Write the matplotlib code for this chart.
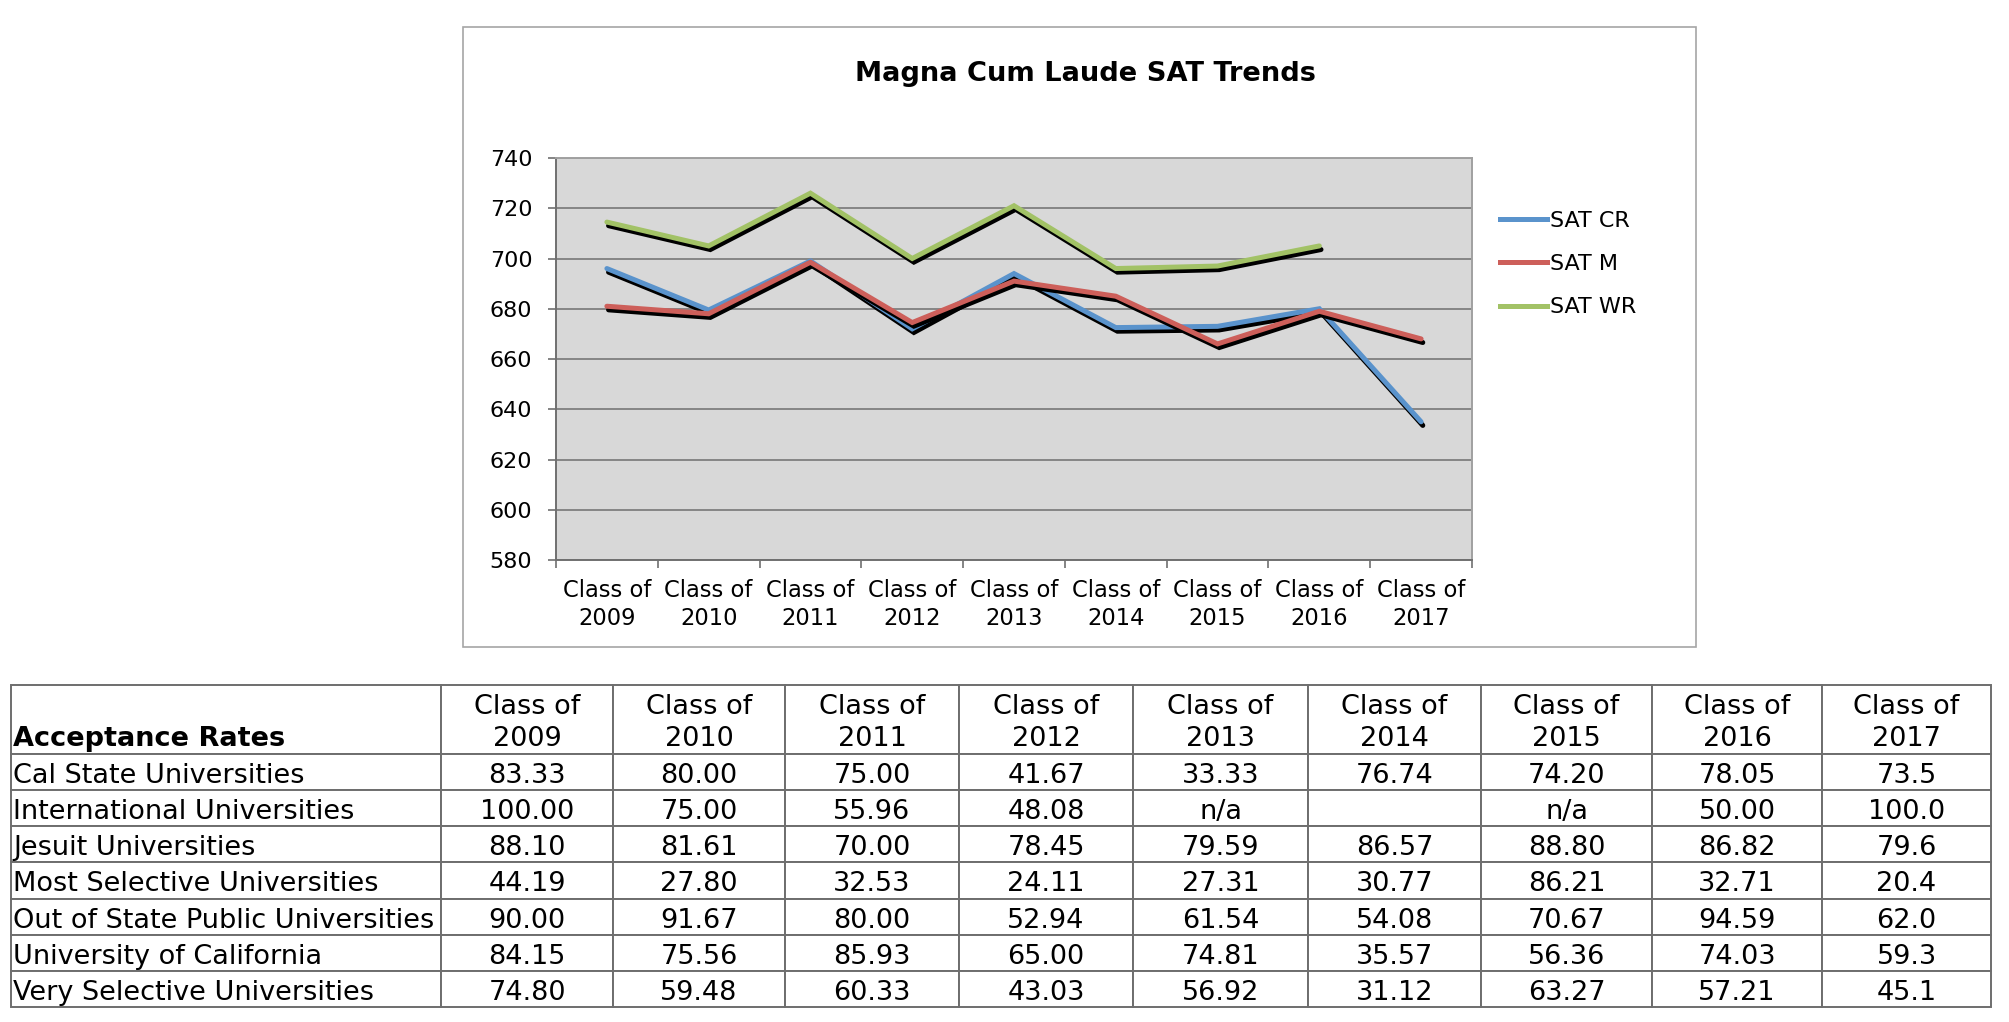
import numpy as np
import matplotlib
matplotlib.use('Agg')
import matplotlib.pyplot as plt
import matplotlib.patheffects as pe
from matplotlib.patches import Rectangle
from matplotlib.transforms import Affine2D

# ─────────────────────────────────────────
# DATA
# ─────────────────────────────────────────
classes = ['2009', '2010', '2011', '2012', '2013', '2014', '2015', '2016', '2017']
sat_cr = [696, 679.5, 699, 672, 694, 672.5, 673, 680, 635]
sat_m  = [681, 678, 698.5, 674.5, 691, 685, 666, 679, 668]
sat_wr = [714.5, 705, 726, 700, 721, 696, 697, 705, np.nan]

series_names  = ['SAT CR', 'SAT M', 'SAT WR']
series_colors = ['#5a93cc', '#cd5f5a', '#a2c266']

table_title = 'Acceptance Rates'
row_labels = ['Cal State Universities', 'International Universities',
              'Jesuit Universities', 'Most Selective Universities',
              'Out of State Public Universities', 'University of California',
              'Very Selective Universities']
cal_state     = ['83.33', '80.00', '75.00', '41.67', '33.33', '76.74', '74.20', '78.05', '73.5']
international = ['100.00', '75.00', '55.96', '48.08', 'n/a', '', 'n/a', '50.00', '100.0']
jesuit        = ['88.10', '81.61', '70.00', '78.45', '79.59', '86.57', '88.80', '86.82', '79.6']
most_sel      = ['44.19', '27.80', '32.53', '24.11', '27.31', '30.77', '86.21', '32.71', '20.4']
out_of_state  = ['90.00', '91.67', '80.00', '52.94', '61.54', '54.08', '70.67', '94.59', '62.0']
uc            = ['84.15', '75.56', '85.93', '65.00', '74.81', '35.57', '56.36', '74.03', '59.3']
very_sel      = ['74.80', '59.48', '60.33', '43.03', '56.92', '31.12', '63.27', '57.21', '45.1']

W, H = 2009, 1022
fig = plt.figure(figsize=(W / 100, H / 100), dpi=100)
plt.rcParams['font.family'] = 'DejaVu Sans'


def fx(px):
    return px / W


def fy(py):
    return 1 - py / H


# ─────────────────────────────────────────
# CHART BOX + TITLE
# ─────────────────────────────────────────
fig.patches.append(Rectangle((fx(463), fy(647)), fx(1696) - fx(463), fy(27) - fy(647),
                             transform=fig.transFigure, facecolor='white',
                             edgecolor='#a6a6a6', linewidth=1.2, zorder=-1))
fig.text(fx(1085), fy(81), 'Magna Cum Laude SAT Trends', ha='center', va='baseline',
         fontsize=19.6, fontweight='bold')

# ─────────────────────────────────────────
# LINE CHART
# ─────────────────────────────────────────
ax = fig.add_axes([fx(556), fy(560), fx(1472) - fx(556), fy(158) - fy(560)])
ax.set_facecolor('#d8d8d8')
x = np.arange(len(classes))

for vals, name, col in zip([sat_cr, sat_m, sat_wr], series_names, series_colors):
    ln, = ax.plot(x, vals, color=col, linewidth=3.6, label=name,
                  solid_capstyle='round', solid_joinstyle='miter')
    ln.set_path_effects([pe.SimpleLineShadow(offset=(1.2, -2.6), shadow_color='black', alpha=1.0),
                         pe.Normal()])

ax.set_xlim(-0.5, len(classes) - 0.5)
ax.set_ylim(580, 740)
ax.set_yticks(np.arange(580, 741, 20))
ax.set_xticks(np.arange(-0.5, len(classes), 1))
ax.set_xticklabels([])
ax.set_xticks(x, minor=True)
ax.set_xticklabels(['Class of\n' + c for c in classes], minor=True, linespacing=1.28)
ax.tick_params(axis='x', which='major', direction='out', length=6, width=1.2, color='#707070')
ax.tick_params(axis='x', which='minor', length=0, pad=14, labelsize=16.3)
ax.tick_params(axis='y', direction='out', length=6, width=1.2, color='#707070',
               pad=11, labelsize=16)
ax.grid(axis='y', color='#7f7f7f', linewidth=1.3)
ax.set_axisbelow(True)
for side in ['left', 'bottom']:
    ax.spines[side].set_color('#707070')
    ax.spines[side].set_linewidth(1.4)
for side in ['top', 'right']:
    ax.spines[side].set_color('#a0a0a0')
    ax.spines[side].set_linewidth(1.4)

leg_handles = [plt.Line2D([], [], color=c, linewidth=3.6) for c in series_colors]
fig.legend(leg_handles, series_names, loc='center left',
           bbox_to_anchor=(fx(1500), fy(264)), frameon=False, fontsize=16,
           handlelength=2.1, handletextpad=0.15, labelspacing=1.05,
           borderpad=0, borderaxespad=0)

# ─────────────────────────────────────────
# ACCEPTANCE RATES TABLE
# ─────────────────────────────────────────
tax = fig.add_axes([0, 0, 1, 1])
tax.axis('off')
tax.set_xlim(0, 1)
tax.set_ylim(0, 1)

rows = [cal_state, international, jesuit, most_sel, out_of_state, uc, very_sel]
cell_text = [['\n' + table_title] + ['Class of\n' + c for c in classes]]
for lab, vals in zip(row_labels, rows):
    cell_text.append([lab] + vals)

col_edges = [11, 441, 613, 785, 959, 1133, 1308, 1481, 1652, 1822, 1991]
col_w = np.diff(col_edges)
tbl = tax.table(cellText=cell_text, colWidths=list(col_w / col_w.sum()),
                bbox=[fx(11), fy(1007), fx(1991) - fx(11), fy(685) - fy(1007)])
tbl.auto_set_font_size(False)
tbl.set_fontsize(19.5)
for (r, c), cell in tbl.get_celld().items():
    cell.set_edgecolor('#6e6e6e')
    cell.set_linewidth(1.4)
    cell.set_height(69 if r == 0 else 36.2)
    txt = cell.get_text()
    txt.set_linespacing(1.3)
    txt.set_transform(Affine2D().translate(0, -4))
    if c == 0:
        cell._loc = 'left'
        txt.set_ha('left')
        cell.PAD = 0.005
    else:
        txt.set_ha('center')
    if r == 0 and c == 0:
        txt.set_fontweight('bold')

fig.savefig('out.png', dpi=100)
